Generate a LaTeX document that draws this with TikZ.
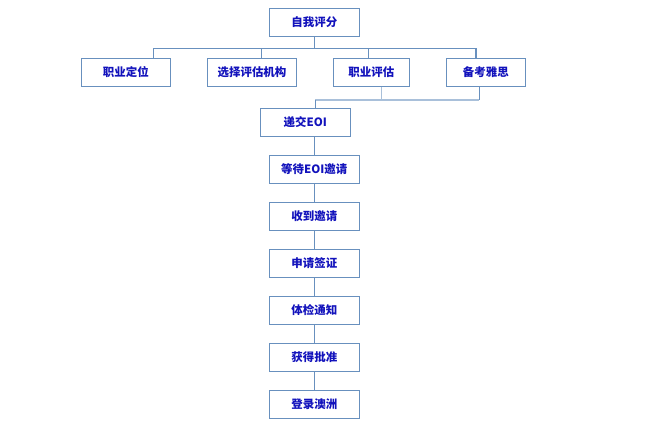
\documentclass[tikz,border=0pt]{standalone}
\usepackage{fontspec}
\newfontfamily\cjk{Noto Sans CJK SC}
\definecolor{edge}{HTML}{6890BE}
\definecolor{lightedge}{HTML}{A9C0DA}
\definecolor{txt}{HTML}{1212BC}
\begin{document}
\begin{tikzpicture}[x=0.75pt,y=-0.75pt,
  box/.style={draw=edge,line width=0.8pt,fill=white,minimum height=21pt,inner sep=0pt,
    font=\cjk\bfseries\fontsize{8.6pt}{10pt}\selectfont,text=txt},
  link/.style={draw=edge,line width=0.8pt},
  merge/.style={draw=lightedge,line width=1pt}]
\useasboundingbox (0,0) rectangle (652,425);
\node[box,minimum width=67.5pt] (top) at (314.3,22.2) {自我评分};
\node[box,minimum width=66.8pt] (r1) at (125.8,72.3) {职业定位};
\node[box,minimum width=67pt] (r2) at (252,72.3) {选择评估机构};
\node[box,minimum width=57pt] (r3) at (371.3,72.3) {职业评估};
\node[box,minimum width=59.3pt] (r4) at (485.8,72.3) {备考雅思};
\node[box,minimum width=67.5pt] (eoi) at (305.3,122.2) {递交EOI};
\node[box,minimum width=67.5pt] (w1) at (314.3,169.3) {等待EOI邀请};
\node[box,minimum width=67.5pt] (w2) at (314.3,216.3) {收到邀请};
\node[box,minimum width=67.5pt] (w3) at (314.3,263.2) {申请签证};
\node[box,minimum width=67.5pt] (w4) at (314.3,310.3) {体检通知};
\node[box,minimum width=67.5pt] (w5) at (314.3,357.2) {获得批准};
\node[box,minimum width=67.5pt] (w6) at (314.3,404.2) {登录澳洲};
\coordinate (busL) at (153.3,48.3);
\coordinate (busR) at (476,48.3);
\draw[link] (top.south) -- (top.south |- busL);
\draw[link] (busL) -- (busR);
\draw[link] (busL) -- (153.3,0 |- r1.north);
\draw[link] (261.3,48.3) -- (261.3,0 |- r2.north);
\draw[link] (368.3,48.3) -- (368.3,0 |- r3.north);
\draw[link] (busR) -- (476,0 |- r4.north);
\coordinate (mL) at (315.3,100);
\coordinate (mR) at (479.3,100);
\draw[merge] (381.7,0 |- r3.south) -- (381.7,100);
\draw[link] (479.3,0 |- r4.south) -- (mR);
\draw[merge] (mL) -- (mR);
\draw[link] (mL) -- (315.3,0 |- eoi.north);
\draw[link] (314.3,0 |- eoi.south) -- (w1.north);
\draw[link] (w1) -- (w2);
\draw[link] (w2) -- (w3);
\draw[link] (w3) -- (w4);
\draw[link] (w4) -- (w5);
\draw[link] (w5) -- (w6);
\end{tikzpicture}
\end{document}
